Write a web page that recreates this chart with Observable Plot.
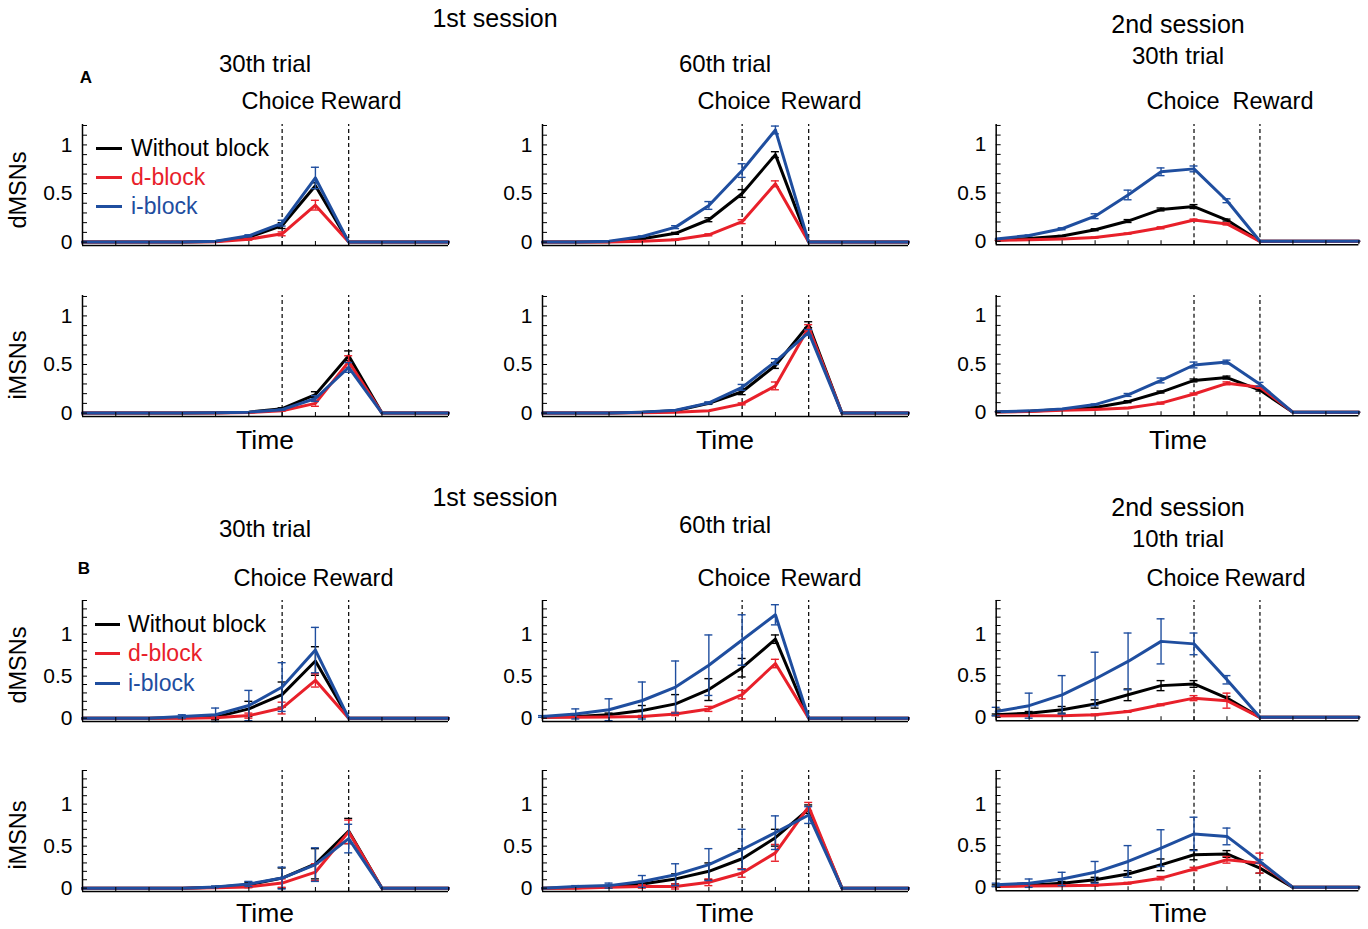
<!DOCTYPE html>
<html><head><meta charset="utf-8">
<script src="https://cdn.jsdelivr.net/npm/d3@7"></script>
<script src="https://cdn.jsdelivr.net/npm/@observablehq/plot@0.6"></script>
<style>
body{margin:0;background:#fff;}
#fig{position:relative;width:1368px;height:929px;font-family:"Liberation Sans",Arial,sans-serif;color:#000;}
.t{position:absolute;white-space:nowrap;transform:translate(-50%,-50%);line-height:1.05;}
.p{position:absolute;}
.lg{position:absolute;height:3px;}
</style></head><body><div id="fig"></div>
<script>
// ---------- data ----------
const timeTicks = [0,1,2,3,4,5,6,7,8,9,10,11];
const choiceTime = 6, rewardTime = 8;
const yMinorA = [0,0.1,0.2,0.3,0.4,0.5,0.6,0.7,0.8,0.9,1.0,1.1,1.2];
const yMinorB = [0,0.1,0.2,0.3,0.4,0.5,0.6,0.7,0.8,0.9,1.0,1.1,1.2,1.3,1.4];
const yTickLabels = [0,0.5,1];
const seriesNames = ["Without block","d-block","i-block"];

// A: dMSNs, 1st session 30th trial
const A_d1_W = [0,0,0,0,0.005,0.05,0.17,0.58,0,0,0,0];
const A_d1_D = [0,0,0,0,0.003,0.03,0.085,0.38,0,0,0,0];
const A_d1_I = [0,0,0,0,0.008,0.065,0.195,0.66,0,0,0,0];
const A_d1_We = [0,0,0,0,0,0.01,0.03,0.03,0,0,0,0];
const A_d1_De = [0,0,0,0,0,0.01,0.02,0.05,0,0,0,0];
const A_d1_Ie = [0,0,0,0,0,0.01,0.03,0.11,0,0,0,0];
// A: dMSNs, 1st session 60th trial
const A_d2_W = [0,0,0.003,0.035,0.09,0.23,0.5,0.9,0,0,0,0];
const A_d2_D = [0,0,0,0.01,0.025,0.075,0.21,0.6,0,0,0,0];
const A_d2_I = [0,0,0.01,0.058,0.154,0.377,0.736,1.154,0,0,0,0];
const A_d2_We = [0,0,0,0.005,0.01,0.02,0.04,0.03,0,0,0,0];
const A_d2_De = [0,0,0,0,0.005,0.01,0.02,0.03,0,0,0,0];
const A_d2_Ie = [0,0,0,0.005,0.015,0.04,0.07,0.04,0,0,0,0];
// A: dMSNs, 2nd session 30th trial
const A_d3_W = [0.01,0.03,0.055,0.12,0.21,0.33,0.36,0.22,0,0,0,0];
const A_d3_D = [0.01,0.015,0.025,0.04,0.08,0.14,0.22,0.18,0,0,0,0];
const A_d3_I = [0.025,0.06,0.13,0.26,0.48,0.72,0.75,0.42,0,0,0,0];
const A_d3_We = [0,0,0.005,0.01,0.015,0.015,0.02,0.01,0,0,0,0];
const A_d3_De = [0,0,0,0.005,0.005,0.01,0.01,0.01,0,0,0,0];
const A_d3_Ie = [0,0.005,0.01,0.025,0.05,0.04,0.03,0.02,0,0,0,0];
// A: iMSNs
const A_i1_W = [0,0,0,0,0.003,0.01,0.045,0.19,0.59,0,0,0];
const A_i1_D = [0,0,0,0,0,0.005,0.025,0.1,0.53,0,0,0];
const A_i1_I = [0,0,0,0,0.003,0.01,0.035,0.15,0.47,0,0,0];
const A_i1_We = [0,0,0,0,0,0,0.01,0.03,0.05,0,0,0];
const A_i1_De = [0,0,0,0,0,0,0.005,0.03,0.06,0,0,0];
const A_i1_Ie = [0,0,0,0,0,0,0.005,0.03,0.05,0,0,0];
const A_i2_W = [0,0,0,0.01,0.025,0.1,0.22,0.49,0.91,0,0,0];
const A_i2_D = [0,0,0,0.003,0.01,0.025,0.095,0.28,0.88,0,0,0];
const A_i2_I = [0,0,0,0.01,0.03,0.105,0.265,0.53,0.83,0,0,0];
const A_i2_We = [0,0,0,0,0,0.01,0.03,0.03,0.03,0,0,0];
const A_i2_De = [0,0,0,0,0,0,0.01,0.04,0.03,0,0,0];
const A_i2_Ie = [0,0,0,0,0,0.01,0.03,0.03,0.03,0,0,0];
const A_i3_W = [0.005,0.01,0.03,0.05,0.11,0.21,0.33,0.36,0.23,0,0,0];
const A_i3_D = [0.003,0.008,0.02,0.03,0.045,0.095,0.19,0.3,0.26,0,0,0];
const A_i3_I = [0.005,0.015,0.035,0.08,0.18,0.33,0.49,0.52,0.29,0,0,0];
const A_i3_We = [0,0,0,0.005,0.01,0.01,0.015,0.015,0.01,0,0,0];
const A_i3_De = [0,0,0,0,0.005,0.01,0.01,0.015,0.01,0,0,0];
const A_i3_Ie = [0,0,0,0.005,0.015,0.025,0.03,0.02,0.02,0,0,0];
// B: dMSNs
const B_d1_W = [0,0,0,0.005,0.012,0.11,0.28,0.68,0,0,0,0];
const B_d1_D = [0,0,0,0,0.005,0.03,0.12,0.45,0,0,0,0];
const B_d1_I = [0,0,0,0.02,0.04,0.15,0.37,0.81,0,0,0,0];
const B_d1_We = [0,0,0,0.01,0.03,0.09,0.15,0.17,0,0,0,0];
const B_d1_De = [0,0,0,0,0.01,0.03,0.07,0.08,0,0,0,0];
const B_d1_Ie = [0,0,0,0.02,0.08,0.18,0.29,0.27,0,0,0,0];
const B_d2_W = [0.01,0.02,0.04,0.09,0.17,0.34,0.6,0.94,0,0,0,0];
const B_d2_D = [0.01,0.01,0.015,0.02,0.05,0.11,0.28,0.65,0,0,0,0];
const B_d2_I = [0.02,0.05,0.1,0.21,0.37,0.63,0.93,1.23,0,0,0,0];
const B_d2_We = [0,0.01,0.02,0.06,0.11,0.13,0.11,0.05,0,0,0,0];
const B_d2_De = [0,0,0.005,0.01,0.02,0.03,0.05,0.05,0,0,0,0];
const B_d2_Ie = [0.01,0.06,0.13,0.22,0.31,0.36,0.3,0.12,0,0,0,0];
const B_d3_W = [0.03,0.05,0.09,0.16,0.27,0.38,0.4,0.23,0,0,0,0];
const B_d3_D = [0.015,0.02,0.02,0.03,0.07,0.15,0.23,0.2,0,0,0,0];
const B_d3_I = [0.07,0.14,0.27,0.46,0.67,0.91,0.88,0.45,0,0,0,0];
const B_d3_We = [0.01,0.02,0.04,0.05,0.07,0.06,0.04,0.02,0,0,0,0];
const B_d3_De = [0,0,0.005,0.01,0.01,0.01,0.03,0.09,0,0,0,0];
const B_d3_Ie = [0.05,0.15,0.23,0.32,0.34,0.27,0.13,0.05,0,0,0,0];
// B: iMSNs
const B_i1_W = [0,0,0,0,0.01,0.04,0.12,0.29,0.68,0,0,0];
const B_i1_D = [0,0,0,0,0.005,0.015,0.06,0.19,0.67,0,0,0];
const B_i1_I = [0,0,0,0,0.015,0.05,0.12,0.28,0.59,0,0,0];
const B_i1_We = [0,0,0,0,0.01,0.03,0.12,0.18,0.15,0,0,0];
const B_i1_De = [0,0,0,0,0,0.01,0.05,0.1,0.14,0,0,0];
const B_i1_Ie = [0,0,0,0,0.01,0.03,0.13,0.2,0.17,0,0,0];
const B_i2_W = [0,0.005,0.02,0.05,0.11,0.2,0.35,0.6,0.94,0,0,0];
const B_i2_D = [0,0,0.01,0.02,0.02,0.07,0.18,0.42,0.97,0,0,0];
const B_i2_I = [0,0.02,0.03,0.08,0.16,0.28,0.46,0.66,0.87,0,0,0];
const B_i2_We = [0,0,0.01,0.03,0.06,0.1,0.12,0.1,0.05,0,0,0];
const B_i2_De = [0,0,0.01,0.02,0.03,0.04,0.05,0.1,0.05,0,0,0];
const B_i2_Ie = [0,0.01,0.03,0.07,0.13,0.19,0.24,0.2,0.1,0,0,0];
const B_i3_W = [0.02,0.025,0.05,0.09,0.16,0.27,0.39,0.4,0.23,0,0,0];
const B_i3_D = [0.01,0.015,0.02,0.025,0.05,0.11,0.22,0.33,0.29,0,0,0];
const B_i3_I = [0.03,0.05,0.1,0.18,0.31,0.47,0.64,0.61,0.31,0,0,0];
const B_i3_We = [0.01,0.01,0.02,0.03,0.04,0.07,0.06,0.04,0.06,0,0,0];
const B_i3_De = [0,0,0,0.01,0.01,0.02,0.02,0.04,0.12,0,0,0];
const B_i3_Ie = [0.02,0.05,0.08,0.13,0.19,0.22,0.2,0.1,0.02,0,0,0];

// ---------- layout / style ----------
const COLORS = ["#000000", "#e8202a", "#1f4e9f"];
const FONT = "'Liberation Sans', Arial, Helvetica, sans-serif";
const colLeft = [82.3, 542.3, 995.7];
const colW = [366, 366, 365];
const rowTop = [124, 295, 600, 770];
const PH = 121;
const domA = [-0.035, 1.21], domB = [-0.04, 1.4];

const fig = document.getElementById("fig");

function panel(col, row, ydom, yMinor, W, D, I, We, De, Ie) {
  const mL = 50, mR = 10, mT = 6, mB = 6;
  const w = colW[col];
  const yPerPx = (ydom[1] - ydom[0]) / PH;
  const xPerPx = 11 / w;
  const marks = [];
  marks.push(Plot.ruleX([choiceTime, rewardTime], {y1: ydom[0], y2: ydom[1], stroke: "#000", strokeWidth: 1.2, strokeDasharray: "4,3"}));
  const ser = [[W, We, COLORS[0]], [D, De, COLORS[1]], [I, Ie, COLORS[2]]];
  for (const [vals, errs, c] of ser) {
    const rows = timeTicks.map((t, i) => ({t, v: vals[i], e: errs[i]}));
    const eb = rows.filter(r => r.e > 0);
    marks.push(Plot.line(rows, {x: "t", y: "v", stroke: c, strokeWidth: 3}));
    marks.push(Plot.ruleX(eb, {x: "t", y1: r => r.v - r.e, y2: r => r.v + r.e, stroke: c, strokeWidth: 1.4}));
    marks.push(Plot.ruleY(eb, {y: r => r.v + r.e, x1: r => r.t - 4 * xPerPx, x2: r => r.t + 4 * xPerPx, stroke: c, strokeWidth: 1.4}));
    marks.push(Plot.ruleY(eb, {y: r => r.v - r.e, x1: r => r.t - 4 * xPerPx, x2: r => r.t + 4 * xPerPx, stroke: c, strokeWidth: 1.4}));
  }
  // axes (MATLAB style inward ticks)
  marks.push(Plot.ruleY(yMinor, {x1: 0, x2: 5 * xPerPx, stroke: "#000", strokeWidth: 1}));
  marks.push(Plot.ruleX(timeTicks, {y1: ydom[0], y2: ydom[0] + 4 * yPerPx, stroke: "#000", strokeWidth: 1}));
  marks.push(Plot.ruleX([0], {y1: ydom[0], y2: ydom[1], stroke: "#000", strokeWidth: 1.5}));
  marks.push(Plot.ruleY([ydom[0]], {x1: 0, x2: 11, stroke: "#000", strokeWidth: 1.5}));
  marks.push(Plot.axisY({ticks: yTickLabels, tickSize: 0, tickPadding: 10, fontSize: 21, label: null, tickFormat: d => String(d)}));
  const svg = Plot.plot({
    width: mL + w + mR, height: PH + mT + mB,
    marginLeft: mL, marginRight: mR, marginTop: mT, marginBottom: mB,
    x: {domain: [0, 11], axis: null},
    y: {domain: ydom, label: null},
    style: {fontSize: "21px", fontFamily: FONT, overflow: "visible", background: "transparent", color: "#000"},
    marks
  });
  const div = document.createElement("div");
  div.className = "p";
  div.style.left = (colLeft[col] - mL) + "px";
  div.style.top = (rowTop[row] - mT) + "px";
  div.appendChild(svg);
  fig.appendChild(div);
}

panel(0, 0, domA, yMinorA, A_d1_W, A_d1_D, A_d1_I, A_d1_We, A_d1_De, A_d1_Ie);
panel(1, 0, domA, yMinorA, A_d2_W, A_d2_D, A_d2_I, A_d2_We, A_d2_De, A_d2_Ie);
panel(2, 0, domA, yMinorA, A_d3_W, A_d3_D, A_d3_I, A_d3_We, A_d3_De, A_d3_Ie);
panel(0, 1, domA, yMinorA, A_i1_W, A_i1_D, A_i1_I, A_i1_We, A_i1_De, A_i1_Ie);
panel(1, 1, domA, yMinorA, A_i2_W, A_i2_D, A_i2_I, A_i2_We, A_i2_De, A_i2_Ie);
panel(2, 1, domA, yMinorA, A_i3_W, A_i3_D, A_i3_I, A_i3_We, A_i3_De, A_i3_Ie);
panel(0, 2, domB, yMinorB, B_d1_W, B_d1_D, B_d1_I, B_d1_We, B_d1_De, B_d1_Ie);
panel(1, 2, domB, yMinorB, B_d2_W, B_d2_D, B_d2_I, B_d2_We, B_d2_De, B_d2_Ie);
panel(2, 2, domB, yMinorB, B_d3_W, B_d3_D, B_d3_I, B_d3_We, B_d3_De, B_d3_Ie);
panel(0, 3, domB, yMinorB, B_i1_W, B_i1_D, B_i1_I, B_i1_We, B_i1_De, B_i1_Ie);
panel(1, 3, domB, yMinorB, B_i2_W, B_i2_D, B_i2_I, B_i2_We, B_i2_De, B_i2_Ie);
panel(2, 3, domB, yMinorB, B_i3_W, B_i3_D, B_i3_I, B_i3_We, B_i3_De, B_i3_Ie);

// ---------- texts ----------
function txt(s, x, y, size, extra) {
  const d = document.createElement("div");
  d.className = "t";
  d.textContent = s;
  d.style.left = x + "px";
  d.style.top = y + "px";
  d.style.fontSize = size + "px";
  if (extra) Object.assign(d.style, extra);
  fig.appendChild(d);
}
const rot = {transform: "translate(-50%,-50%) rotate(-90deg)"};
const SES = 25, TRI = 24, CR = 23.5, TIME = 26.5, YL = 23.5;
// Section A
txt("1st session", 495, 18, SES);
txt("30th trial", 265, 64, TRI);
txt("60th trial", 725, 64, TRI);
txt("2nd session", 1178, 24, SES);
txt("30th trial", 1178, 56, TRI);
txt("A", 86, 78, 17, {fontWeight: "bold"});
txt("Choice", 278, 101, CR); txt("Reward", 361, 101, CR);
txt("Choice", 734, 101, CR); txt("Reward", 821, 101, CR);
txt("Choice", 1183, 101, CR); txt("Reward", 1273, 101, CR);
txt("dMSNs", 18, 190, YL, rot);
txt("iMSNs", 18, 365, YL, rot);
txt("Time", 265, 441, TIME); txt("Time", 725, 441, TIME); txt("Time", 1178, 441, TIME);
// Section B
txt("1st session", 495, 497, SES);
txt("30th trial", 265, 529, TRI);
txt("60th trial", 725, 525, TRI);
txt("2nd session", 1178, 507, SES);
txt("10th trial", 1178, 539, TRI);
txt("B", 84, 569, 17, {fontWeight: "bold"});
txt("Choice", 270, 578, CR); txt("Reward", 353, 578, CR);
txt("Choice", 734, 578, CR); txt("Reward", 821, 578, CR);
txt("Choice", 1183, 578, CR); txt("Reward", 1265, 578, CR);
txt("dMSNs", 18, 665, YL, rot);
txt("iMSNs", 18, 835, YL, rot);
txt("Time", 265, 914, TIME); txt("Time", 725, 914, TIME); txt("Time", 1178, 914, TIME);

// legends
function legend(x0, lineW, tx, ys) {
  seriesNames.forEach((name, i) => {
    const l = document.createElement("div");
    l.className = "lg";
    l.style.left = x0 + "px"; l.style.width = lineW + "px";
    l.style.top = (ys[i] - 1.5) + "px";
    l.style.background = COLORS[i];
    fig.appendChild(l);
    const d = document.createElement("div");
    d.className = "t";
    d.textContent = name;
    d.style.left = tx + "px"; d.style.top = ys[i] + "px";
    d.style.fontSize = "23px"; d.style.color = COLORS[i];
    d.style.transform = "translate(0,-50%)";
    fig.appendChild(d);
  });
}
legend(96, 26, 131, [148, 177, 206]);
legend(95, 25, 128, [624, 653, 683]);
</script></body></html>
